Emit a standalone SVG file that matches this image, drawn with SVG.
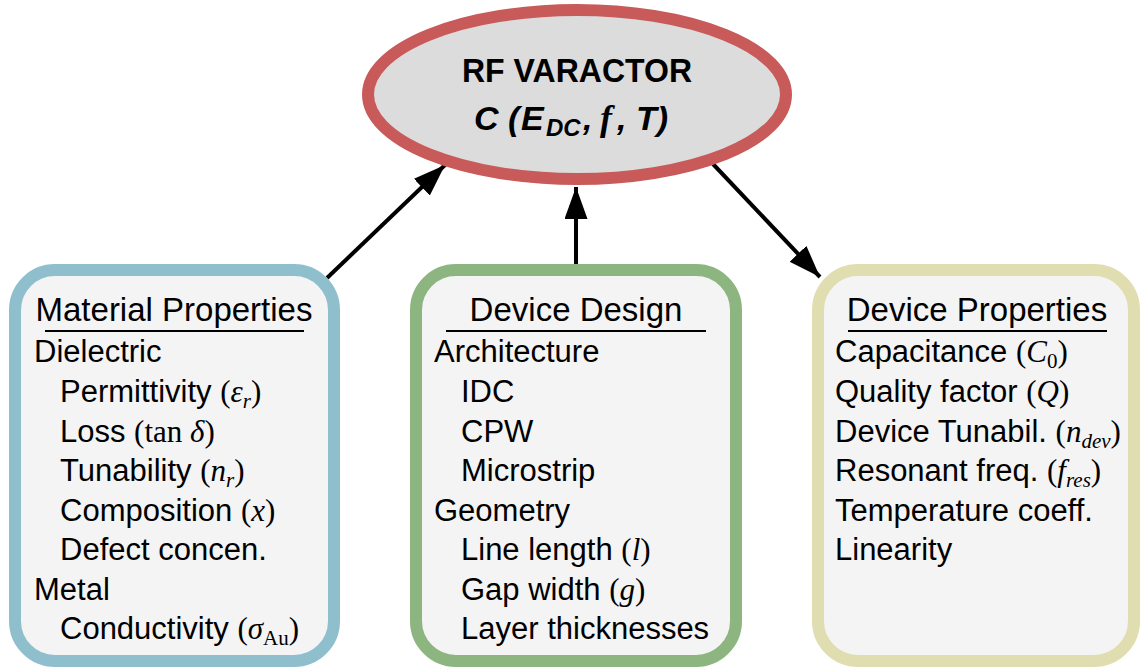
<svg xmlns="http://www.w3.org/2000/svg" width="1141" height="667" viewBox="0 0 1141 667">
<style>
.box{fill:#f4f4f4;stroke-width:12}
.t{font-family:"Liberation Sans",Arial,sans-serif;font-size:31px;fill:#000}
.h{font-family:"Liberation Sans",Arial,sans-serif;font-size:33px;fill:#000;text-anchor:middle}
.m{font-family:"Liberation Serif","Times New Roman",serif}
.i{font-family:"Liberation Serif","Times New Roman",serif;font-style:italic}
.ul{stroke:#000;stroke-width:2}
.conn{stroke:#000;stroke-width:4;fill:none}
.e{font-family:"Liberation Sans",Arial,sans-serif;font-weight:bold;fill:#000}
</style>
<defs>
<marker id="ah" markerUnits="userSpaceOnUse" markerWidth="34" markerHeight="24" refX="32" refY="11.5" orient="auto">
<path d="M0,0 L32,11.5 L0,23 z" fill="#000"/>
</marker>
</defs>
<g id="connectors">
<line class="conn" x1="327" y1="278" x2="445" y2="165" marker-end="url(#ah)"/>
<line class="conn" x1="576" y1="266" x2="576" y2="187" marker-end="url(#ah)"/>
<line class="conn" x1="713" y1="164" x2="820" y2="277" marker-end="url(#ah)"/>
</g>
<g id="rf-varactor">
<ellipse cx="577" cy="94.5" rx="209" ry="84.5" fill="#dcdcdc" stroke="#c85a5a" stroke-width="12"/>
<text class="e" x="462" y="82" font-size="34" textLength="230" lengthAdjust="spacingAndGlyphs">RF VARACTOR</text>
<text class="e" y="130" font-size="34" font-style="italic"><tspan x="474">C (</tspan><tspan x="521">E</tspan><tspan x="546" dy="6" font-size="24">DC</tspan><tspan x="583" dy="-6">,</tspan><tspan x="600" class="i" font-weight="bold" font-size="36">f</tspan><tspan x="617">,</tspan><tspan x="636">T)</tspan></text>
</g>
<g id="material-properties">
<rect class="box" x="15" y="270" width="319" height="391" rx="40" stroke="#8fbfcc"/>
<text class="h" x="174" y="321">Material Properties</text>
<line class="ul" x1="45" y1="331" x2="304" y2="331"/>
<text class="t" x="34" y="362">Dielectric</text>
<text class="t" x="60" y="402">Permittivity <tspan class="m">(</tspan><tspan class="i">ε</tspan><tspan class="i" font-size="21" dy="6">r</tspan><tspan class="m" dy="-6">)</tspan></text>
<text class="t" x="60" y="442">Loss <tspan class="m">(tan </tspan><tspan class="i">δ</tspan><tspan class="m">)</tspan></text>
<text class="t" x="60" y="481">Tunability <tspan class="m">(</tspan><tspan class="i">n</tspan><tspan class="i" font-size="21" dy="6">r</tspan><tspan class="m" dy="-6">)</tspan></text>
<text class="t" x="60" y="521">Composition <tspan class="m">(</tspan><tspan class="i">x</tspan><tspan class="m">)</tspan></text>
<text class="t" x="60" y="560">Defect concen.</text>
<text class="t" x="34" y="600">Metal</text>
<text class="t" x="60" y="639">Conductivity <tspan class="m">(</tspan><tspan class="i">σ</tspan><tspan class="m" font-size="21" dy="6">Au</tspan><tspan class="m" dy="-6">)</tspan></text>
</g>
<g id="device-design">
<rect class="box" x="416" y="270" width="320" height="391" rx="40" stroke="#8db580"/>
<text class="h" x="576" y="321">Device Design</text>
<line class="ul" x1="446" y1="331" x2="706" y2="331"/>
<text class="t" x="434" y="362">Architecture</text>
<text class="t" x="461" y="402">IDC</text>
<text class="t" x="461" y="442">CPW</text>
<text class="t" x="461" y="481">Microstrip</text>
<text class="t" x="434" y="521">Geometry</text>
<text class="t" x="461" y="560">Line length <tspan class="m">(</tspan><tspan class="i">l</tspan><tspan class="m">)</tspan></text>
<text class="t" x="461" y="600">Gap width <tspan class="m">(</tspan><tspan class="i">g</tspan><tspan class="m">)</tspan></text>
<text class="t" x="461" y="639">Layer thicknesses</text>
</g>
<g id="device-properties">
<rect class="box" x="818" y="270" width="316" height="391" rx="40" stroke="#e0ddb0"/>
<text class="h" x="977" y="321">Device Properties</text>
<line class="ul" x1="848" y1="331" x2="1107" y2="331"/>
<text class="t" x="835" y="362">Capacitance <tspan class="m">(</tspan><tspan class="i">C</tspan><tspan class="m" font-size="21" dy="6">0</tspan><tspan class="m" dy="-6">)</tspan></text>
<text class="t" x="835" y="402">Quality factor <tspan class="m">(</tspan><tspan class="i">Q</tspan><tspan class="m">)</tspan></text>
<text class="t" x="835" y="442">Device Tunabil. <tspan class="m">(</tspan><tspan class="i">n</tspan><tspan class="i" font-size="21" dy="6">dev</tspan><tspan class="m" dy="-6">)</tspan></text>
<text class="t" x="835" y="481">Resonant freq. <tspan class="m">(</tspan><tspan class="i">f</tspan><tspan class="i" font-size="21" dy="6">res</tspan><tspan class="m" dy="-6">)</tspan></text>
<text class="t" x="835" y="521">Temperature coeff.</text>
<text class="t" x="835" y="560">Linearity</text>
</g>
</svg>
